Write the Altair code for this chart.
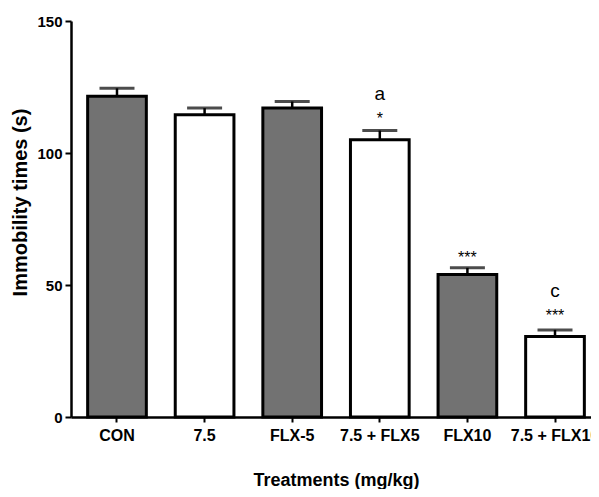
import altair as alt
import pandas as pd

categories = ["CON", "7.5", "FLX-5", "7.5 + FLX5", "FLX10", "7.5 + FLX10"]
means = [121.5, 114.5, 117.0, 105.0, 54.0, 30.5]
sems = [3.0, 2.5, 2.5, 3.5, 2.5, 2.5]
groups = ["shaded", "open", "shaded", "open", "shaded", "open"]

ann_cats = ["7.5 + FLX5", "7.5 + FLX5", "FLX10", "7.5 + FLX10", "7.5 + FLX10"]
ann_text = ["a", "*", "***", "c", "***"]
ann_y = [120.0, 110.8, 58.5, 45.5, 36.2]
ann_size = [19, 16, 16, 19, 16]

df = pd.DataFrame({"cat": categories, "mean": means, "sem": sems, "grp": groups})
df["top"] = df["mean"] + df["sem"]
ann = pd.DataFrame({"cat": ann_cats, "txt": ann_text, "y": ann_y, "size": ann_size})

FONT = "Liberation Sans"

xenc = alt.X(
    "cat:N",
    sort=categories,
    scale=alt.Scale(paddingInner=0.33, paddingOuter=0.19, range=[0, 530]),
    axis=alt.Axis(
        title="Treatments (mg/kg)",
        labelAngle=0,
        labelFont=FONT, labelFontSize=16, labelFontWeight="bold", labelColor="black",
        labelPadding=5,
        tickSize=5, tickWidth=2, tickColor="black",
        domainColor="black", domainWidth=2.5,
        titleFont=FONT, titleFontSize=18, titleFontWeight="bold", titleColor="black",
        titleX=265, titleY=63, titleBaseline="middle", titleAlign="center",
        grid=False,
    ),
)

yscale = alt.Scale(domain=[0, 150], nice=False)
yaxis = alt.Axis(
    title="Immobility times (s)",
    values=[0, 50, 100, 150],
    labelFont=FONT, labelFontSize=15, labelFontWeight="bold", labelColor="black",
    labelPadding=3,
    tickSize=6, tickWidth=2, tickColor="black",
    domainColor="black", domainWidth=2.5,
    titleFont=FONT, titleFontSize=20, titleFontWeight="bold", titleColor="black",
    titleX=-51, titleY=181, titleBaseline="middle", titleAlign="center",
    grid=False,
)

bars = alt.Chart(df).mark_bar(stroke="black", strokeWidth=3).encode(
    x=xenc,
    y=alt.Y("mean:Q", scale=yscale, axis=yaxis),
    fill=alt.Fill("grp:N", scale=alt.Scale(domain=["shaded", "open"], range=["#727272", "#ffffff"]), legend=None),
)

rules = alt.Chart(df).mark_rule(color="black", strokeWidth=2.5).encode(
    x=alt.X("cat:N", sort=categories),
    y=alt.Y("mean:Q", scale=yscale),
    y2="top:Q",
)

caps = alt.Chart(df).mark_tick(color="black", size=35, thickness=3).encode(
    x=alt.X("cat:N", sort=categories),
    y=alt.Y("top:Q", scale=yscale),
)

texts = alt.Chart(ann).mark_text(font=FONT, color="black", baseline="alphabetic", align="center").encode(
    x=alt.X("cat:N", sort=categories),
    y=alt.Y("y:Q", scale=yscale),
    text="txt:N",
    size=alt.Size("size:Q", scale=None, legend=None),
)

chart = (
    alt.layer(bars, rules, caps, texts)
    .properties(
        width=520,
        height=396,
        autosize=alt.AutoSizeParams(type="none"),
        padding={"left": 63, "top": 13, "right": 0, "bottom": 72},
        background="white",
    )
    .configure_view(stroke=None)
)

chart.save("out.html", embed_options={"renderer": "svg", "actions": False})
